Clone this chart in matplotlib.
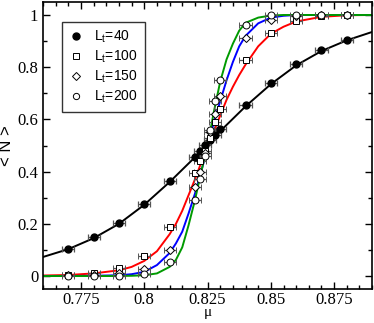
import numpy as np
import matplotlib
matplotlib.use('Agg')
import matplotlib.pyplot as plt
from matplotlib.ticker import MultipleLocator

# ---- measured points (mu, <N>) ----
mu_pts = [0.77, 0.78, 0.79, 0.80, 0.81,
          0.82, 0.822, 0.824, 0.826, 0.828, 0.83,
          0.84, 0.85, 0.86, 0.87, 0.88]
n_40 = [0.103, 0.149, 0.203, 0.276, 0.364,
        0.456, 0.479, 0.502, 0.521, 0.540, 0.563,
        0.657, 0.739, 0.812, 0.866, 0.904]
n_100 = [0.005, 0.010, 0.030, 0.077, 0.188,
         0.395, 0.440, 0.480, 0.530, 0.590, 0.640,
         0.828, 0.932, 0.977, 0.996, 1.000]
n_150 = [0.003, 0.005, 0.010, 0.027, 0.100,
         0.340, 0.400, 0.470, 0.550, 0.620, 0.690,
         0.913, 0.980, 0.998, 1.000, 1.000]
n_200 = [0.000, 0.000, 0.002, 0.008, 0.052,
         0.290, 0.370, 0.460, 0.560, 0.670, 0.750,
         0.962, 1.000, 1.000, 1.000, 1.000]
mu_err = 0.0024

# ---- fit curves ----
mu_fit40 = [0.76, 0.77, 0.78, 0.79, 0.80, 0.81, 0.82, 0.83, 0.84, 0.85, 0.86, 0.87, 0.88, 0.89]
fit40 = [0.073, 0.103, 0.145, 0.200, 0.273, 0.360, 0.455, 0.555, 0.650, 0.735, 0.807, 0.862, 0.903, 0.935]

mu_fit = [0.76, 0.77, 0.78, 0.79, 0.795, 0.80, 0.805, 0.81, 0.8125, 0.815, 0.8175, 0.82, 0.8225,
          0.825, 0.8275, 0.83, 0.8325, 0.835, 0.8375, 0.84, 0.845, 0.85, 0.855, 0.86, 0.87, 0.88, 0.89]
fit100 = [0.002, 0.004, 0.010, 0.022, 0.035, 0.058, 0.095, 0.160, 0.200, 0.250, 0.310, 0.370, 0.435,
          0.495, 0.555, 0.615, 0.675, 0.725, 0.770, 0.810, 0.880, 0.928, 0.955, 0.975, 0.993, 0.999, 1.000]
fit150 = [0.000, 0.000, 0.001, 0.003, 0.007, 0.016, 0.042, 0.088, 0.125, 0.170, 0.240, 0.315, 0.400,
          0.495, 0.590, 0.670, 0.750, 0.820, 0.880, 0.920, 0.968, 0.990, 0.997, 1.000, 1.000, 1.000, 1.000]
fit200 = [0.000, 0.000, 0.000, 0.000, 0.001, 0.003, 0.010, 0.035, 0.062, 0.110, 0.195, 0.290, 0.400,
          0.500, 0.630, 0.745, 0.830, 0.890, 0.940, 0.970, 0.990, 0.998, 1.000, 1.000, 1.000, 1.000, 1.000]

leg_labels = [r"L$_\mathregular{t}$=40", r"L$_\mathregular{t}$=100",
              r"L$_\mathregular{t}$=150", r"L$_\mathregular{t}$=200"]

plt.rcParams['font.family'] = 'Liberation Serif'
plt.rcParams['mathtext.fontset'] = 'custom'
plt.rcParams['mathtext.rm'] = 'Liberation Sans'

fig = plt.figure(figsize=(3.74, 3.23), dpi=100)
ax = fig.add_axes([0.115, 0.105, 0.88, 0.889])

ax.plot(mu_fit40, fit40, color='k', lw=1.4, zorder=2)
ax.plot(mu_fit, fit100, color='#ff0000', lw=1.4, zorder=2)
ax.plot(mu_fit, fit150, color='#0000ff', lw=1.4, zorder=2)
ax.plot(mu_fit, fit200, color='#009a00', lw=1.4, zorder=2)

eb = dict(xerr=mu_err, ecolor='#555555', elinewidth=0.9, capsize=2, capthick=0.9, ls='none')
h1 = ax.errorbar(mu_pts, n_40, fmt='o', ms=5, mfc='k', mec='k', zorder=3, **eb)
h2 = ax.errorbar(mu_pts, n_100, fmt='s', ms=4.5, mfc='white', mec='k', mew=0.7, zorder=3, **eb)
h3 = ax.errorbar(mu_pts, n_150, fmt='D', ms=4.2, mfc='white', mec='k', mew=0.7, zorder=3, **eb)
h4 = ax.errorbar(mu_pts, n_200, fmt='o', ms=5, mfc='white', mec='k', mew=0.7, zorder=3, **eb)

ax.set_xlim(0.76, 0.89)
ax.set_ylim(-0.05, 1.05)
ax.set_xticks([0.775, 0.8, 0.825, 0.85, 0.875])
ax.set_xticklabels(['0.775', '0.8', '0.825', '0.85', '0.875'])
ax.set_yticks([0, 0.2, 0.4, 0.6, 0.8, 1])
ax.set_yticklabels(['0', '0.2', '0.4', '0.6', '0.8', '1'])
ax.xaxis.set_minor_locator(MultipleLocator(0.005))
ax.yaxis.set_minor_locator(MultipleLocator(0.1))
ax.tick_params(which='both', direction='in', top=True, right=True, labelsize=12, width=1)
ax.tick_params(axis='x', pad=2)
ax.tick_params(which='major', length=5)
ax.tick_params(which='minor', length=3)
for s in ax.spines.values():
    s.set_linewidth(1.2)

ax.set_xlabel(r"μ", fontsize=11, labelpad=-1)
ax.set_ylabel("< N >", fontsize=12, family='Liberation Sans', labelpad=2)

legend_handles = [
    plt.Line2D([], [], ls='none', marker='o', ms=5, mfc='k', mec='k'),
    plt.Line2D([], [], ls='none', marker='s', ms=4, mfc='white', mec='k', mew=0.7),
    plt.Line2D([], [], ls='none', marker='D', ms=4, mfc='white', mec='k', mew=0.7),
    plt.Line2D([], [], ls='none', marker='o', ms=4.5, mfc='white', mec='k', mew=0.7),
]
leg = ax.legend(legend_handles, leg_labels, loc='upper left', bbox_to_anchor=(0.058, 0.93),
                prop={'family': 'Liberation Sans', 'size': 10}, frameon=True, fancybox=False,
                edgecolor='k', handlelength=1.0, handletextpad=0.8, labelspacing=0.25,
                borderpad=0.5, borderaxespad=0)
leg.get_frame().set_linewidth(1.0)

fig.savefig('out.png', dpi=100)
